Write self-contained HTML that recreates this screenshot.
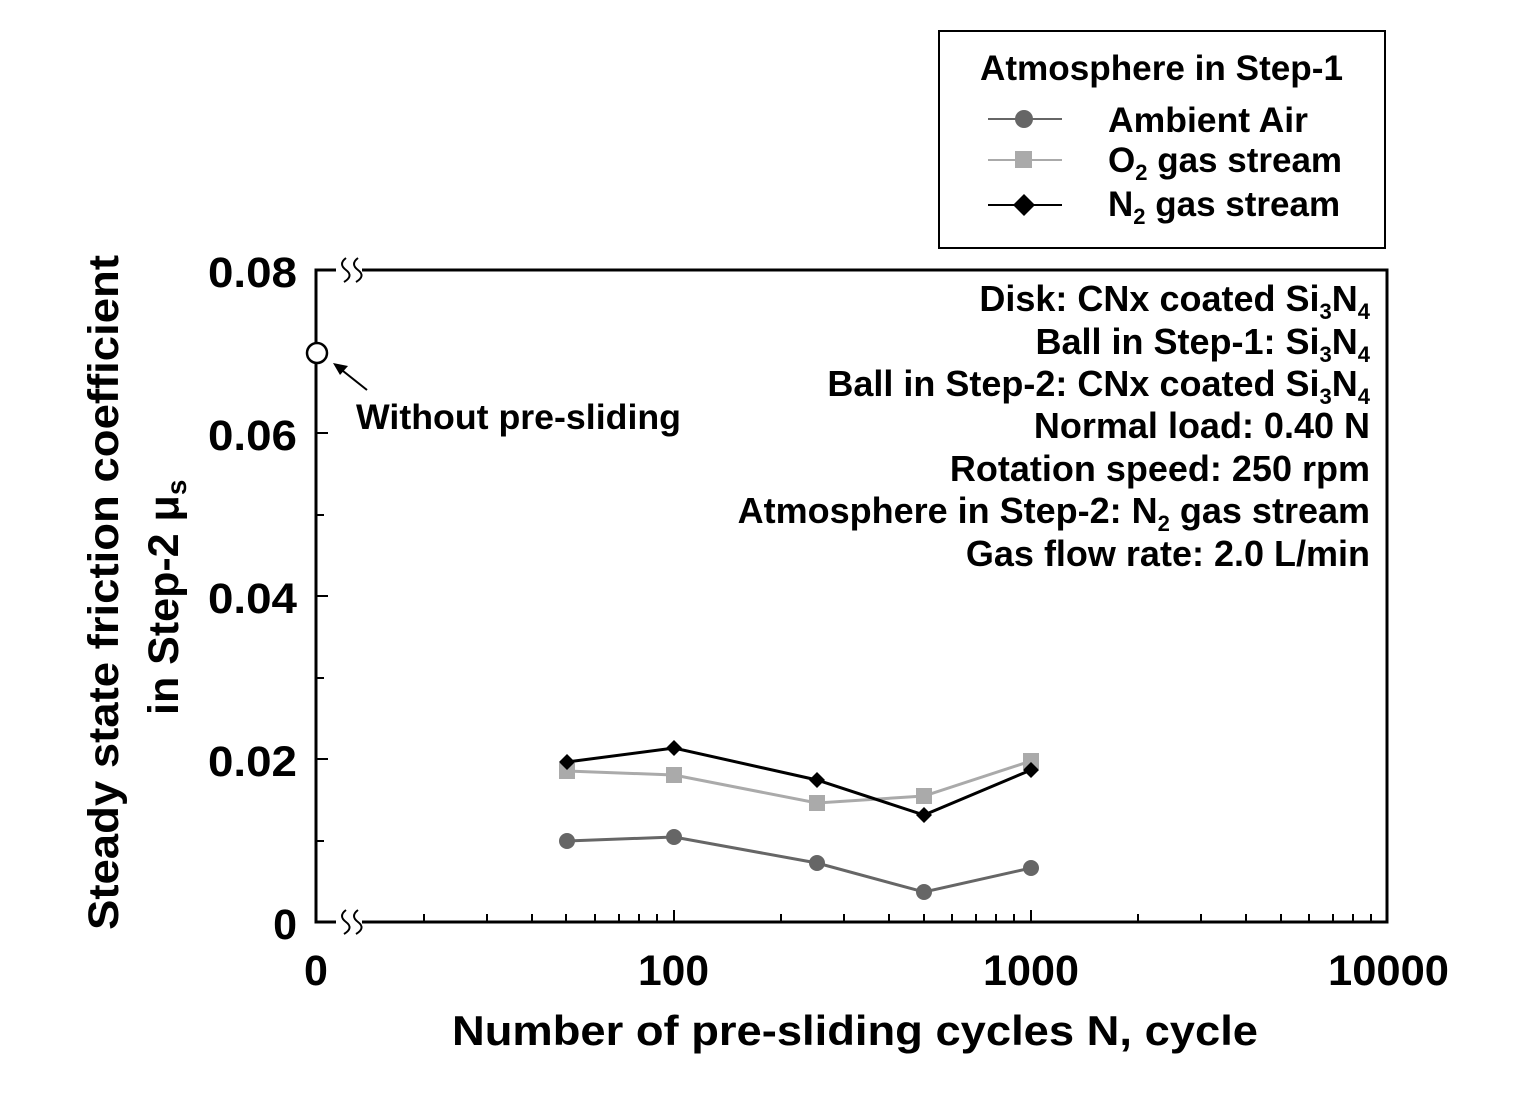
<!DOCTYPE html>
<html><head><meta charset="utf-8"><style>body{margin:0;background:#fff}</style></head><body>
<svg width="1524" height="1097" xmlns="http://www.w3.org/2000/svg" font-family="Liberation Sans, Arial, sans-serif" font-weight="bold">
<rect width="1524" height="1097" fill="#fff"/>
<!-- legend -->
<rect x="939" y="31" width="446" height="217" fill="#fff" stroke="#000" stroke-width="2"/>
<text x="980" y="80" font-size="35" textLength="363" lengthAdjust="spacingAndGlyphs">Atmosphere in Step-1</text>
<line x1="988" y1="119" x2="1062" y2="119" stroke="#666" stroke-width="2"/><circle cx="1024" cy="119" r="9" fill="#666"/>
<text x="1108" y="132" font-size="35" textLength="200" lengthAdjust="spacingAndGlyphs">Ambient Air</text>
<line x1="988" y1="160" x2="1062" y2="160" stroke="#aaa" stroke-width="2"/><rect x="1015" y="151" width="17" height="17" fill="#aaa"/>
<text x="1108" y="172" font-size="35">O<tspan font-size="22" dy="8">2</tspan><tspan dy="-8"> gas stream</tspan></text>
<line x1="988" y1="205" x2="1062" y2="205" stroke="#000" stroke-width="2"/><polygon points="1024,194 1035,205 1024,216 1013,205" fill="#000"/>
<text x="1108" y="216" font-size="35">N<tspan font-size="22" dy="8">2</tspan><tspan dy="-8"> gas stream</tspan></text>
<!-- axes -->
<path d="M316,922 L316,270 L1387,270 L1387,922 Z" fill="none" stroke="#000" stroke-width="3"/>
<g stroke="#000" stroke-width="2">
<line x1="316" y1="433" x2="328" y2="433"/><line x1="316" y1="596" x2="328" y2="596"/><line x1="316" y1="759" x2="328" y2="759"/>
<line x1="316" y1="352" x2="324" y2="352"/><line x1="316" y1="515" x2="324" y2="515"/><line x1="316" y1="678" x2="324" y2="678"/><line x1="316" y1="841" x2="324" y2="841"/>
<line x1="674" y1="922" x2="674" y2="910"/><line x1="1031" y1="922" x2="1031" y2="910"/>
<path d="M424,922v-8M487,922v-8M532,922v-8M566,922v-8M595,922v-8M619,922v-8M639,922v-8M657,922v-8M781,922v-8M844,922v-8M889,922v-8M924,922v-8M952,922v-8M976,922v-8M996,922v-8M1014,922v-8M1138,922v-8M1201,922v-8M1246,922v-8M1281,922v-8M1309,922v-8M1333,922v-8M1353,922v-8M1371,922v-8"/>
</g>
<!-- breaks -->
<g fill="none" stroke="#000" stroke-width="2">
<rect x="336" y="262" width="26" height="16" fill="#fff" stroke="none"/>
<path d="M346,258 q-8,6 0,12 q8,6 -2,12"/><path d="M358,258 q-8,6 0,12 q8,6 -2,12"/>
<rect x="336" y="914" width="26" height="16" fill="#fff" stroke="none"/>
<path d="M346,910 q-8,6 0,12 q8,6 -2,12"/><path d="M358,910 q-8,6 0,12 q8,6 -2,12"/>
</g>
<!-- open circle & arrow -->
<circle cx="317" cy="353" r="10" fill="#fff" stroke="#000" stroke-width="2.5"/>
<line x1="367" y1="390" x2="338" y2="367" stroke="#000" stroke-width="2"/>
<polygon points="333,363 348,366 340,375" fill="#000"/>
<text x="356" y="429" font-size="35" textLength="325" lengthAdjust="spacingAndGlyphs">Without pre-sliding</text>
<!-- tick labels -->
<g font-size="43">
<text x="208" y="287" textLength="89" lengthAdjust="spacingAndGlyphs">0.08</text>
<text x="208" y="450" textLength="89" lengthAdjust="spacingAndGlyphs">0.06</text>
<text x="208" y="613" textLength="89" lengthAdjust="spacingAndGlyphs">0.04</text>
<text x="208" y="776" textLength="89" lengthAdjust="spacingAndGlyphs">0.02</text>
<text x="297" y="939" text-anchor="end">0</text>
</g>
<g font-size="43">
<text x="304" y="985">0</text>
<text x="638" y="985" textLength="71" lengthAdjust="spacingAndGlyphs">100</text>
<text x="983" y="985" textLength="96" lengthAdjust="spacingAndGlyphs">1000</text>
<text x="1328" y="985" textLength="121" lengthAdjust="spacingAndGlyphs">10000</text>
</g>
<text x="452" y="1045" font-size="42" textLength="806" lengthAdjust="spacingAndGlyphs">Number of pre-sliding cycles N, cycle</text>
<g transform="rotate(-90)" font-size="43">
<text x="-930" y="118" textLength="675" lengthAdjust="spacingAndGlyphs">Steady state friction coefficient</text>
<text x="-715" y="178">in Step-2 μ<tspan font-size="28" dy="8">s</tspan></text>
</g>
<!-- conditions -->
<g font-size="36" text-anchor="end">
<text x="1370" y="311">Disk: CNx coated Si<tspan font-size="22" dy="8">3</tspan><tspan dy="-8">N</tspan><tspan font-size="22" dy="8">4</tspan></text>
<text x="1370" y="354">Ball in Step-1: Si<tspan font-size="22" dy="8">3</tspan><tspan dy="-8">N</tspan><tspan font-size="22" dy="8">4</tspan></text>
<text x="1370" y="396">Ball in Step-2: CNx coated Si<tspan font-size="22" dy="8">3</tspan><tspan dy="-8">N</tspan><tspan font-size="22" dy="8">4</tspan></text>
<text x="1370" y="438">Normal load: 0.40 N</text>
<text x="1370" y="481">Rotation speed: 250 rpm</text>
<text x="1370" y="523">Atmosphere in Step-2: N<tspan font-size="22" dy="8">2</tspan><tspan dy="-8"> gas stream</tspan></text>
<text x="1370" y="566">Gas flow rate: 2.0 L/min</text>
</g>
<!-- series -->
<polyline points="567,841 674,837 817,863 924,892 1031,868" fill="none" stroke="#666" stroke-width="3"/>
<g fill="#666"><circle cx="567" cy="841" r="8"/><circle cx="674" cy="837" r="8"/><circle cx="817" cy="863" r="8"/><circle cx="924" cy="892" r="8"/><circle cx="1031" cy="868" r="8"/></g>
<polyline points="567,771 674,775 817,803 924,796 1031,761" fill="none" stroke="#aaa" stroke-width="3"/>
<g fill="#aaa"><rect x="559" y="763" width="16" height="16"/><rect x="666" y="767" width="16" height="16"/><rect x="809" y="795" width="16" height="16"/><rect x="916" y="788" width="16" height="16"/><rect x="1023" y="753" width="16" height="16"/></g>
<polyline points="567,762 674,748 817,780 924,815 1031,770" fill="none" stroke="#000" stroke-width="3"/>
<g fill="#000"><polygon points="567,754 575,762 567,770 559,762"/><polygon points="674,740 682,748 674,756 666,748"/><polygon points="817,772 825,780 817,788 809,780"/><polygon points="924,807 932,815 924,823 916,815"/><polygon points="1031,762 1039,770 1031,778 1023,770"/></g>
</svg>
</body></html>
